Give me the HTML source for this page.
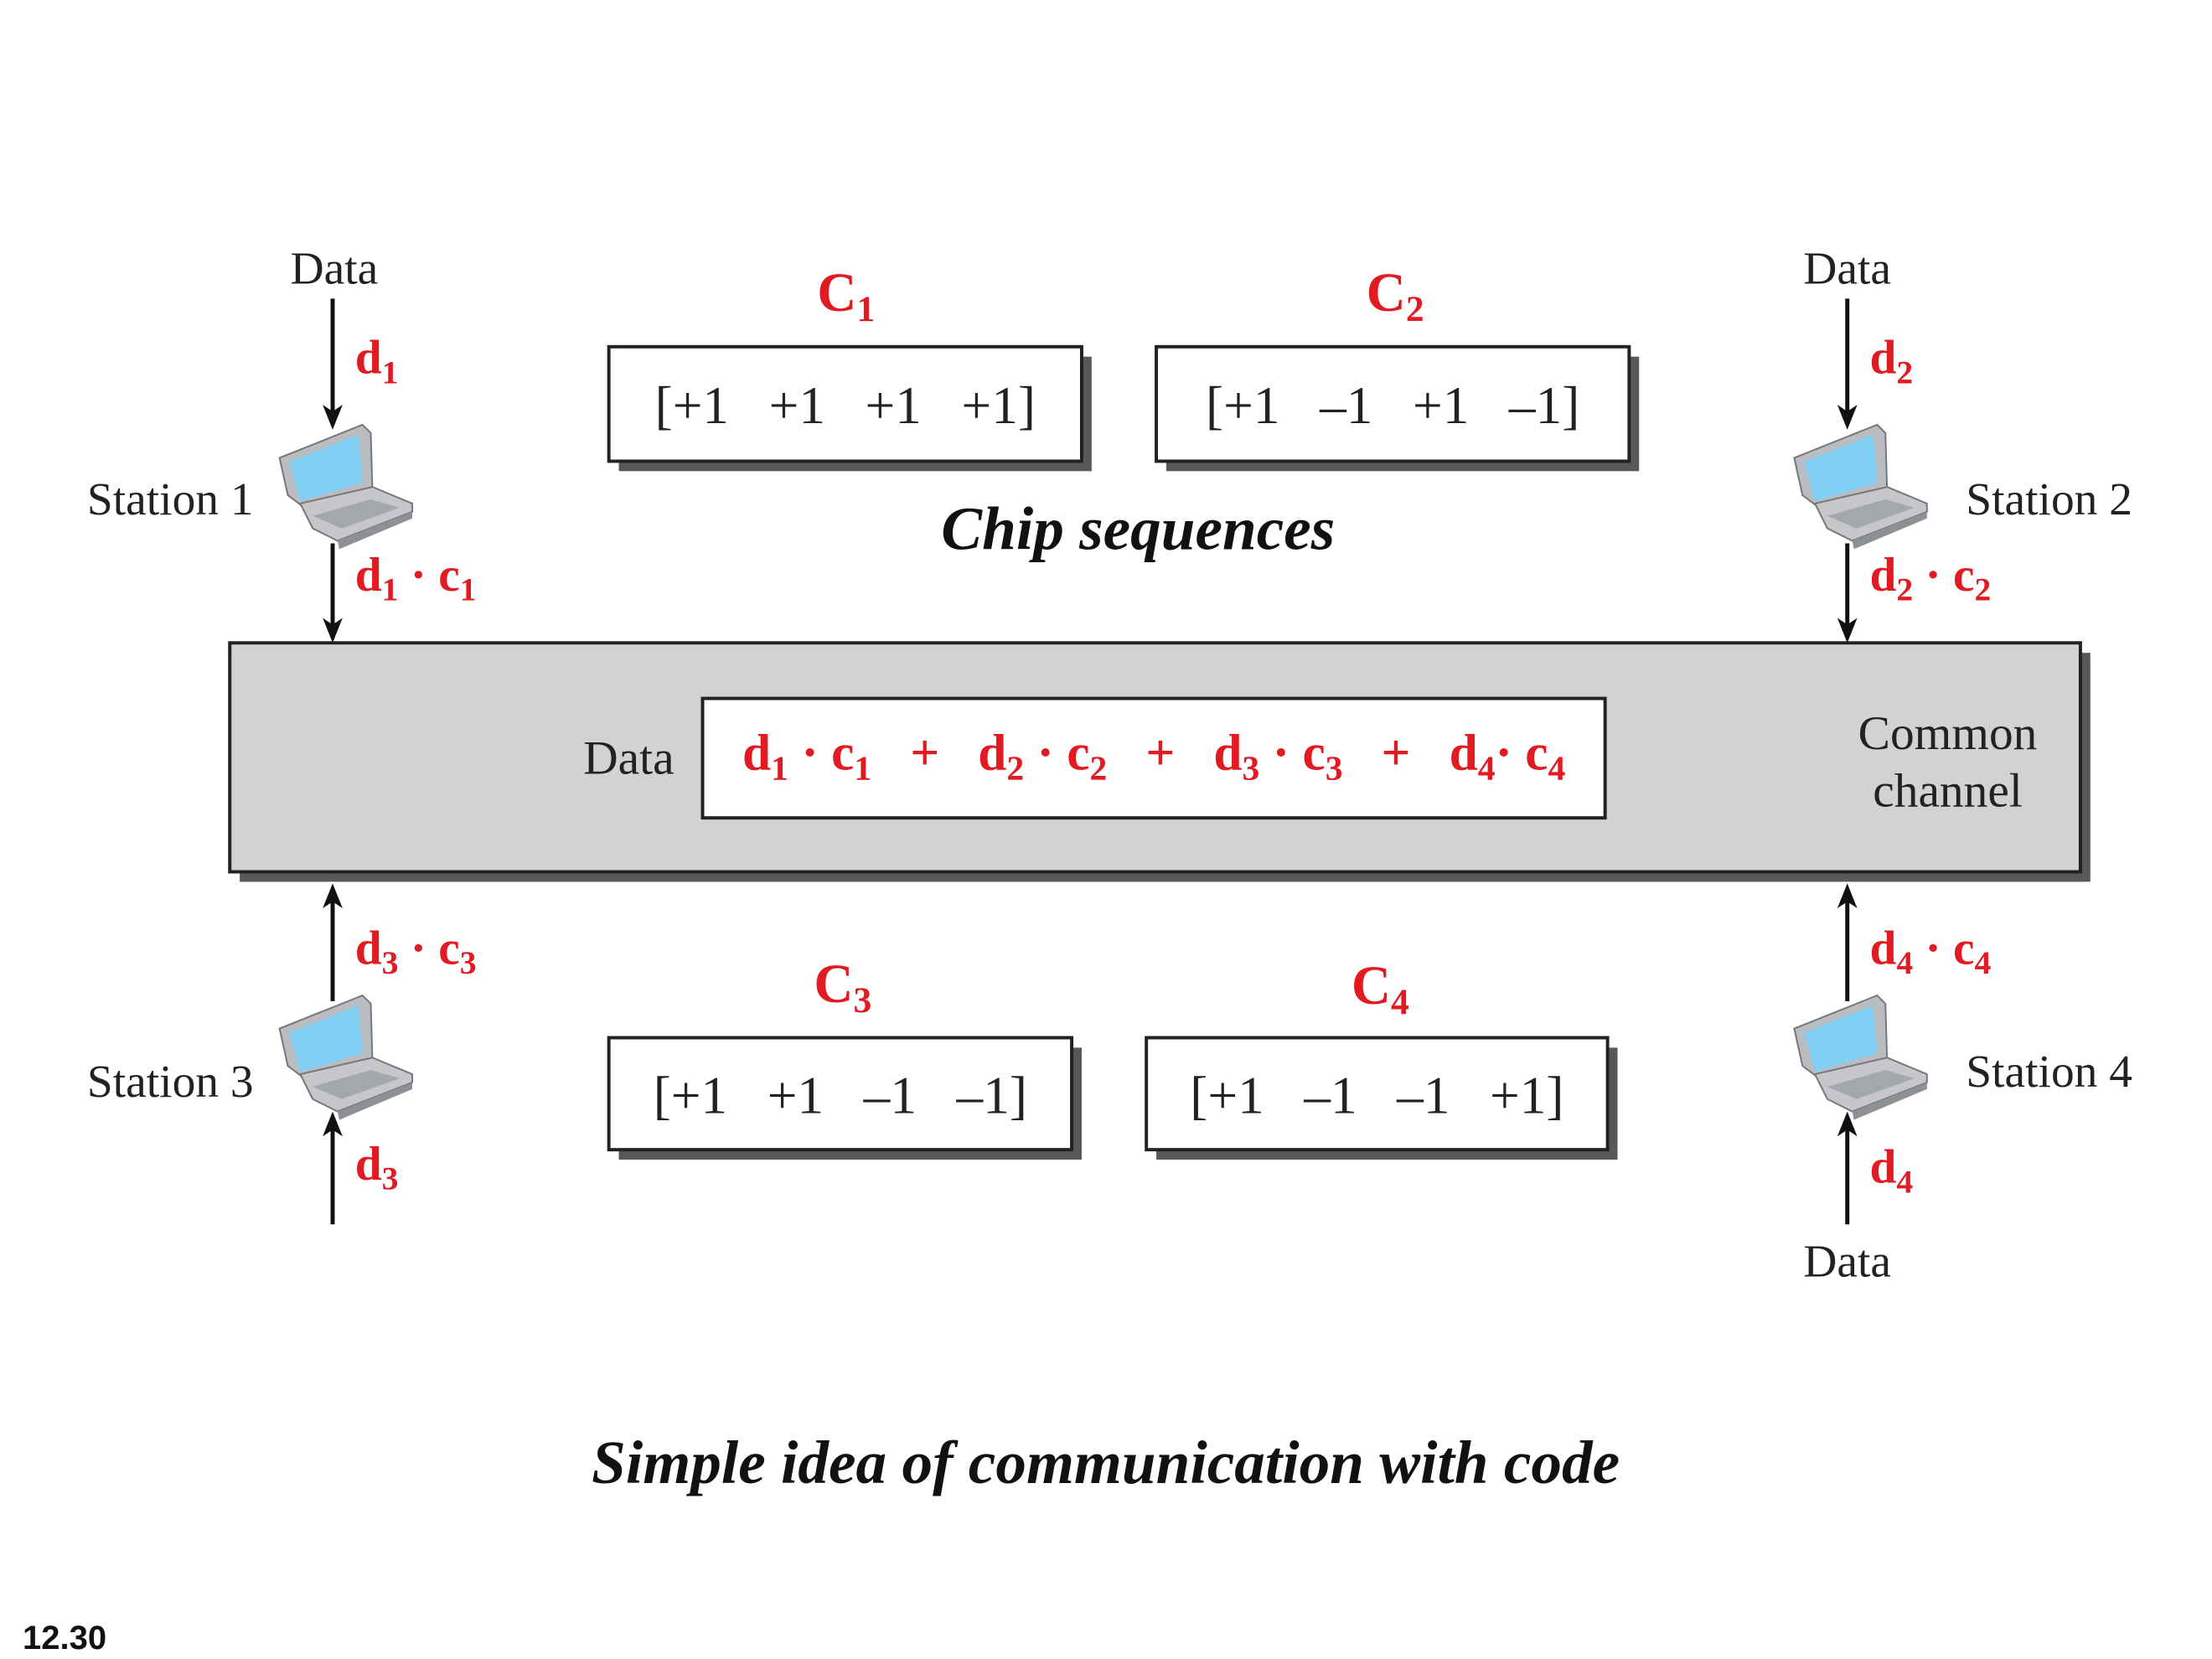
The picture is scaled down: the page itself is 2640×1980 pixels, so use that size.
<!DOCTYPE html>
<html><head><meta charset="utf-8"><style>
html,body{margin:0;padding:0;background:#fff}
svg{display:block}
text{white-space:pre}
.s{font-family:"Liberation Serif",serif}
.r{fill:#e21b23;font-weight:bold;font-family:"Liberation Serif",serif}
</style></head><body>
<svg width="2640" height="1980" viewBox="0 0 2640 1980" xmlns="http://www.w3.org/2000/svg">
<defs>
<g id="lap">
  <polygon points="0,40 100,0 110,10 112,80 30,100 10,85" fill="#b9bcc0" stroke="#777" stroke-width="2"/>
  <polygon points="12,45 95,12 100,70 25,92" fill="#7fd0f4"/>
  <polygon points="25,95 112,75 160,95 160,105 70,140 40,125" fill="#c5c7ca" stroke="#777" stroke-width="2"/>
  <polygon points="40,110 110,90 145,100 75,125" fill="#a4a7ab"/>
  <polygon points="70,140 160,105 160,113 72,150" fill="#8d9094"/>
</g>
</defs>
<g transform="scale(0.99)">
<rect x="289" y="787" width="2231" height="276" fill="#58585a"/>
<rect x="277" y="775" width="2231" height="276" fill="#d1d2d4" stroke="#222" stroke-width="4"/>
<rect x="847" y="842" width="1088" height="144" fill="#fff" stroke="#222" stroke-width="4"/>
<text x="758" y="933" class="s" font-size="58" text-anchor="middle" fill="#222">Data</text>
<text x="2348" y="903" class="s" font-size="58" text-anchor="middle" fill="#222">Common</text>
<text x="2348" y="972" class="s" font-size="58" text-anchor="middle" fill="#222">channel</text>
<g class="r" font-size="62">
<text x="895" y="928">d<tspan font-size="42" dy="12">1</tspan><tspan dy="-12"> · c</tspan><tspan font-size="42" dy="12">1</tspan><tspan dy="-12">   +   d</tspan><tspan font-size="42" dy="12">2</tspan><tspan dy="-12"> · c</tspan><tspan font-size="42" dy="12">2</tspan><tspan dy="-12">   +   d</tspan><tspan font-size="42" dy="12">3</tspan><tspan dy="-12"> · c</tspan><tspan font-size="42" dy="12">3</tspan><tspan dy="-12">   +   d</tspan><tspan font-size="42" dy="12">4</tspan><tspan dy="-12">· c</tspan><tspan font-size="42" dy="12">4</tspan></text>
</g>

<g stroke="#222" stroke-width="4">
<rect x="746" y="430" width="570" height="138" fill="#58585a" stroke="none"/>
<rect x="734" y="418" width="570" height="138" fill="#fff"/>
<rect x="1406" y="430" width="570" height="138" fill="#58585a" stroke="none"/>
<rect x="1394" y="418" width="570" height="138" fill="#fff"/>
<rect x="746" y="1263" width="558" height="135" fill="#58585a" stroke="none"/>
<rect x="734" y="1251" width="558" height="135" fill="#fff"/>
<rect x="1394" y="1263" width="556" height="135" fill="#58585a" stroke="none"/>
<rect x="1382" y="1251" width="556" height="135" fill="#fff"/>
</g>
<g class="s" font-size="64" fill="#222" text-anchor="middle">
<text x="1019" y="510">[+1   +1   +1   +1]</text>
<text x="1679" y="510">[+1   –1   +1   –1]</text>
<text x="1013" y="1342">[+1   +1   –1   –1]</text>
<text x="1660" y="1342">[+1   –1   –1   +1]</text>
</g>
<g class="r" font-size="66" text-anchor="middle">
<text x="1020" y="375">C<tspan font-size="44" dy="12">1</tspan></text>
<text x="1682" y="375">C<tspan font-size="44" dy="12">2</tspan></text>
<text x="1016" y="1208">C<tspan font-size="44" dy="12">3</tspan></text>
<text x="1664" y="1210">C<tspan font-size="44" dy="12">4</tspan></text>
</g>
<text x="1372" y="662" class="s" font-size="74" font-style="italic" font-weight="bold" text-anchor="middle" fill="#111">Chip sequences</text>
<text x="1333" y="1788" class="s" font-size="74" font-style="italic" font-weight="bold" text-anchor="middle" fill="#111">Simple idea of communication with code</text>

<g stroke="#111" stroke-width="5" fill="none">
<line x1="401" y1="360" x2="401" y2="500"/>
<line x1="401" y1="655" x2="401" y2="758"/>
<line x1="2227" y1="360" x2="2227" y2="500"/>
<line x1="2227" y1="655" x2="2227" y2="758"/>
<line x1="401" y1="1207" x2="401" y2="1082"/>
<line x1="401" y1="1476" x2="401" y2="1357"/>
<line x1="2227" y1="1207" x2="2227" y2="1082"/>
<line x1="2227" y1="1476" x2="2227" y2="1357"/>
</g>
<g fill="#111">
<polygon points="389,488 401,518 413,488 401,496"/>
<polygon points="389,745 401,775 413,745 401,753"/>
<polygon points="2215,488 2227,518 2239,488 2227,496"/>
<polygon points="2215,745 2227,775 2239,745 2227,753"/>
<polygon points="389,1095 401,1065 413,1095 401,1087"/>
<polygon points="389,1370 401,1340 413,1370 401,1362"/>
<polygon points="2215,1095 2227,1065 2239,1095 2227,1087"/>
<polygon points="2215,1370 2227,1340 2239,1370 2227,1362"/>
</g>

<use href="#lap" transform="translate(337,512)"/>
<use href="#lap" transform="translate(2163,512)"/>
<use href="#lap" transform="translate(337,1200)"/>
<use href="#lap" transform="translate(2163,1200)"/>

<g class="s" font-size="56" fill="#222">
<text x="403" y="342" text-anchor="middle">Data</text>
<text x="2227" y="342" text-anchor="middle">Data</text>
<text x="2227" y="1539" text-anchor="middle">Data</text>
<text x="105" y="620">Station 1</text>
<text x="2370" y="620">Station 2</text>
<text x="105" y="1322">Station 3</text>
<text x="2370" y="1310">Station 4</text>
</g>
<g class="r" font-size="58">
<text x="428" y="450">d<tspan font-size="40" dy="12">1</tspan></text>
<text x="2254" y="450">d<tspan font-size="40" dy="12">2</tspan></text>
<text x="428" y="712">d<tspan font-size="40" dy="12">1</tspan><tspan dy="-12"> · c</tspan><tspan font-size="40" dy="12">1</tspan></text>
<text x="2254" y="712">d<tspan font-size="40" dy="12">2</tspan><tspan dy="-12"> · c</tspan><tspan font-size="40" dy="12">2</tspan></text>
<text x="428" y="1162">d<tspan font-size="40" dy="12">3</tspan><tspan dy="-12"> · c</tspan><tspan font-size="40" dy="12">3</tspan></text>
<text x="2254" y="1162">d<tspan font-size="40" dy="12">4</tspan><tspan dy="-12"> · c</tspan><tspan font-size="40" dy="12">4</tspan></text>
<text x="428" y="1422">d<tspan font-size="40" dy="12">3</tspan></text>
<text x="2254" y="1426">d<tspan font-size="40" dy="12">4</tspan></text>
</g>
</g>
<text x="27" y="1968" font-family="Liberation Sans,sans-serif" font-weight="bold" font-size="40" fill="#111">12.30</text>
</svg>
</body></html>
